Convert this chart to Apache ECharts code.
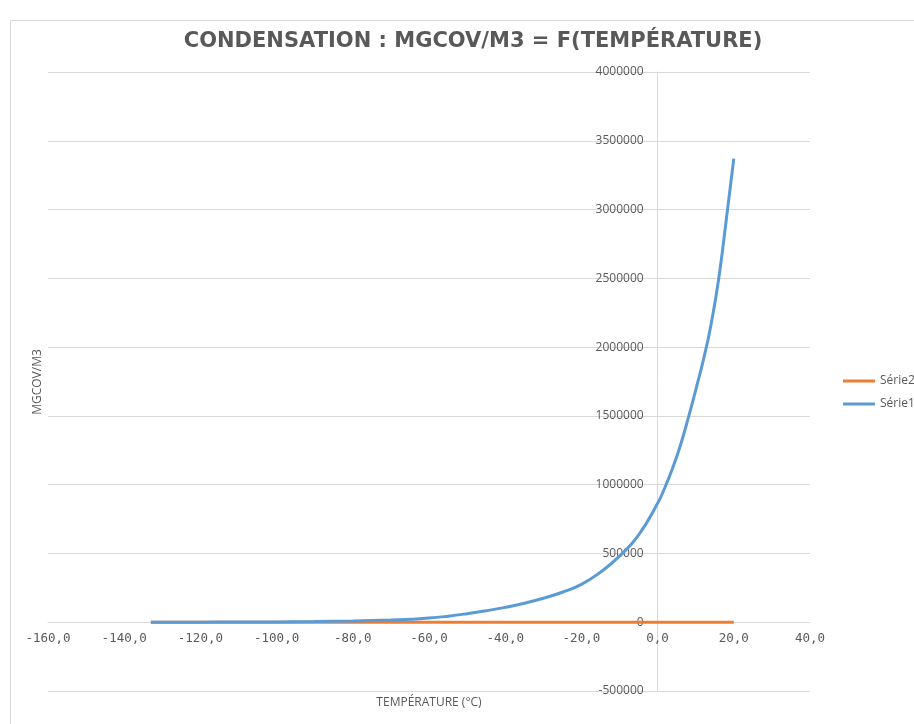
<!DOCTYPE html>
<html>
<head>
<meta charset="utf-8">
<script src="https://cdn.jsdelivr.net/npm/echarts@6/dist/echarts.min.js"></script>
<style>
  html, body { margin: 0; padding: 0; background: #ffffff; }
  #chart { width: 914px; height: 724px; }
</style>
</head>
<body>
<div id="chart"></div>
<script>
// Température (°C) and the matching concentrations (mgCOV/m3)
const temperatures = [-133, -120, -110, -100, -90, -80, -70, -65, -60, -55, -50, -45, -40,
  -35, -30, -25, -20, -15, -10, -5, 0, 2, 4, 6, 8, 10, 12, 14, 16, 18, 20];
const serie1 = [100, 500, 1200, 2500, 5000, 9000, 16000, 22000, 30000, 44000, 62000, 83000, 108000,
  138000, 174000, 218000, 275000, 364000, 480000, 634000, 865000, 985000,
  1125000, 1287000, 1480000, 1688000, 1905000, 2160000, 2490000, 2920000, 3370000];

// Second series: flat at zero over the same temperature range
const serie2Temperatures = [-133, 20];
const serie2 = [0, 0];

const seriesNames = ['Série2', 'Série1'];
const chartTitle = 'CONDENSATION : MGCOV/M3 = F(TEMPÉRATURE)';
const xAxisTitle = 'TEMPÉRATURE (°C)';
const yAxisTitle = 'MGCOV/M3';

const xMin = -160, xMax = 40, xStep = 20;
const yMin = -500000, yMax = 4000000, yStep = 500000;

const pairs = (xs, ys) => xs.map((x, i) => [x, ys[i]]);

const TEXT = '#595959';
const GRID = '#d9d9d9';

// Plot area
const G = { left: 48, right: 104, top: 72, bottom: 33 };
const W = 914, H = 724;
const plotW = W - G.left - G.right;
const plotH = H - G.top - G.bottom;
// Axes cross at the origin: shift each axis from its grid edge to the other's zero
const xAxisOffset = -plotH * (0 - yMin) / (yMax - yMin);
const yAxisOffset = -plotW * (0 - xMin) / (xMax - xMin);

const chart = echarts.init(document.getElementById('chart'), null, { renderer: 'canvas' });

chart.setOption({
  backgroundColor: '#ffffff',
  animation: false,
  title: {
    text: chartTitle,
    left: 468,
    top: 26,
    textAlign: 'center',
    textStyle: { fontFamily: 'DejaVu Sans', fontWeight: 'bold', fontSize: 21, color: TEXT }
  },
  legend: {
    orient: 'vertical',
    left: 843,
    top: 375,
    padding: 0,
    data: seriesNames,
    icon: 'rect',
    itemWidth: 32,
    itemHeight: 3,
    itemGap: 11,
    textStyle: { fontFamily: 'Open Sans', fontSize: 12, color: TEXT }
  },
  grid: { left: G.left, right: G.right, top: G.top, bottom: G.bottom, containLabel: false, outerBoundsMode: 'none' },
  xAxis: {
    type: 'value',
    position: 'bottom',
    offset: xAxisOffset,
    min: xMin,
    max: xMax,
    interval: xStep,
    axisLine: { show: true, onZero: false, lineStyle: { color: GRID, width: 1 } },
    axisTick: { show: false },
    splitLine: { show: false },
    axisLabel: {
      margin: 10,
      color: TEXT,
      fontFamily: 'DejaVu Sans Mono',
      fontSize: 12.5,
      formatter: v => v.toFixed(1).replace('.', ',')
    }
  },
  yAxis: {
    type: 'value',
    position: 'left',
    offset: yAxisOffset,
    min: yMin,
    max: yMax,
    interval: yStep,
    axisLine: { show: true, onZero: false, lineStyle: { color: GRID, width: 1 } },
    axisTick: { show: false },
    splitLine: { show: true, lineStyle: { color: GRID, width: 1 } },
    axisLabel: {
      margin: 14,
      color: TEXT,
      fontFamily: 'Open Sans',
      fontSize: 12,
      formatter: v => String(v)
    }
  },
  graphic: [
    {
      type: 'rect',
      shape: { x: 10.5, y: 20.5, width: 1000, height: 800 },
      style: { fill: 'none', stroke: GRID, lineWidth: 1 },
      silent: true,
      z: -10
    },
    {
      type: 'text',
      x: 429,
      y: 703,
      style: { text: xAxisTitle, fill: TEXT, font: '12px "Open Sans"', textAlign: 'center', textVerticalAlign: 'middle' }
    },
    {
      type: 'text',
      x: 38,
      y: 382,
      rotation: Math.PI / 2,
      style: { text: yAxisTitle, fill: TEXT, font: '12px "Open Sans"', textAlign: 'center', textVerticalAlign: 'middle' }
    }
  ],
  series: [
    {
      name: 'Série2',
      type: 'line',
      data: pairs(serie2Temperatures, serie2),
      showSymbol: false,
      lineStyle: { color: '#ed7d31', width: 3 },
      itemStyle: { color: '#ed7d31' },
      z: 2
    },
    {
      name: 'Série1',
      type: 'line',
      data: pairs(temperatures, serie1),
      showSymbol: false,
      smooth: 0.5,
      lineStyle: { color: '#5b9bd5', width: 3 },
      itemStyle: { color: '#5b9bd5' },
      z: 3
    }
  ]
});
</script>
</body>
</html>
